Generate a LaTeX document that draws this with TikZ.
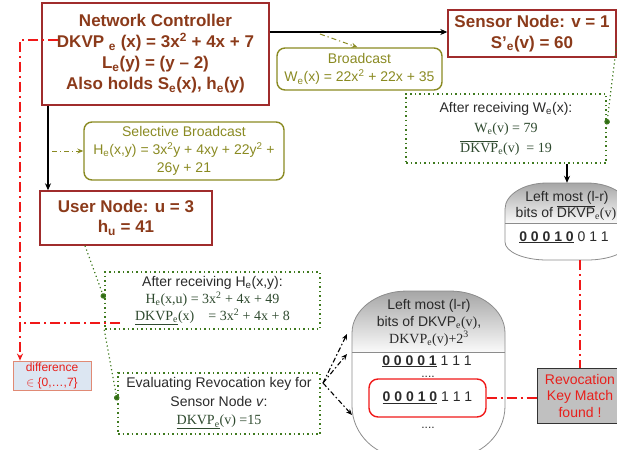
\documentclass[tikz,border=0pt]{standalone}
\usepackage{fontspec}
\setmainfont{Liberation Sans}
\newfontfamily\serif{Liberation Serif}
\usetikzlibrary{arrows.meta}
\definecolor{ncred}{HTML}{A02C2C}
\definecolor{nctext}{HTML}{8B3A1A}
\definecolor{olv}{HTML}{8A8A22}
\definecolor{dgreen}{HTML}{3F7A1F}
\definecolor{dotc}{HTML}{2E6A14}
\definecolor{frm}{HTML}{2F4A2F}
\definecolor{stx}{HTML}{2A2A2A}
\definecolor{rline}{HTML}{F01818}
\definecolor{revred}{HTML}{E8201C}
\definecolor{diffill}{HTML}{DCE6F2}
\definecolor{difborder}{HTML}{E08A75}
\definecolor{revfill}{HTML}{C0C0C0}
\definecolor{shapeline}{HTML}{8C8C8C}
\newcommand\bits[2]{\underline{\textbf{#1}} #2}
\newcommand\ovdk{$\overline{\mbox{DKVP}}$}
\newcommand\pillpath[7]{(#1,#2+#6) .. controls (#1,#2+0.448*#6) and (#1+0.448*#5,#2) .. (#1+#5,#2) -- (#3-#5,#2) .. controls (#3-0.448*#5,#2) and (#3,#2+0.448*#6) .. (#3,#2+#6) -- (#3,#4-#7) .. controls (#3,#4-0.448*#7) and (#3-0.448*#5,#4) .. (#3-#5,#4) -- (#1+#5,#4) .. controls (#1+0.448*#5,#4) and (#1,#4-0.448*#7) .. (#1,#4-#7) -- cycle}
\begin{document}
\begin{tikzpicture}[x=1pt,y=-1pt,
  ncbox/.style={draw=ncred, line width=1.4pt, text=nctext, font=\fontsize{17}{21}\selectfont\bfseries, align=center, inner sep=0pt},
  olbox/.style={draw=olv, line width=1.4pt, rounded corners=8pt, text=olv, font=\fontsize{14}{18.5}\selectfont, align=center, inner sep=0pt},
  dotbox/.style={draw=dgreen, line width=1.5pt, dash pattern=on 1.5pt off 3pt, align=center, inner sep=0pt, text=stx, font=\fontsize{14}{17.5}\selectfont},
  stxt/.style={text=stx, font=\fontsize{14}{17}\selectfont, inner sep=0pt},
  shp/.style={draw=shapeline, line width=0.8pt},
  redbox/.style={draw=rline, line width=1.4pt, rounded corners=9pt, minimum width=117pt, minimum height=38pt, inner sep=0pt, text=stx, font=\fontsize{14}{17}\selectfont},
  blk/.style={draw=black, line width=1.1pt, -{Stealth[length=7pt,width=6pt]}},
  olvarrow/.style={draw=olv, line width=1pt, dash pattern=on 5pt off 3pt on 1.2pt off 3pt, -{Stealth[length=6pt,width=5pt]}},
  dotlink/.style={draw=dgreen, line width=1.2pt, dash pattern=on 1.2pt off 2.8pt, -{Circle[length=5.5pt,fill=dotc]}},
  reddash/.style={draw=rline, line width=2pt, dash pattern=on 10pt off 4pt on 2pt off 4pt},
  bdash/.style={draw=black, line width=1.1pt, dash pattern=on 5pt off 2.5pt on 1.5pt off 2.5pt, -{Stealth[length=6pt,width=5pt]}}
]
\useasboundingbox (0,0) rectangle (617,449);
\clip (0,0) rectangle (617,449);

% top-right bit shape
\begin{scope}
\clip \pillpath{505}{183}{629}{260}{42}{26}{18};
\shade[top color=gray!70, bottom color=gray!4] (505,183) rectangle (629,223);
\end{scope}
\draw[shp] \pillpath{505}{183}{629}{260}{42}{26}{18};
\draw[shp] (505,223) -- (629,223);
\node[inner sep=0pt, minimum width=124pt, minimum height=77pt] (lm1) at (567,221.5) {};

% big bit shape
\begin{scope}
\clip \pillpath{352}{291}{505}{458}{55}{42}{52};
\shade[top color=gray!70, bottom color=gray!4] (352,291) rectangle (505,352);
\end{scope}
\draw[shp] \pillpath{352}{291}{505}{458}{55}{42}{52};
\draw[shp] (352,352) -- (505,352);
\node[inner sep=0pt, minimum width=153pt, minimum height=167pt] (lm2) at (428.5,374.5) {};

\node[stxt, anchor=base] (l1a) at (567,201) {Left most (l-r)};
\node[stxt, anchor=base] (l1b) at (566,217) {bits of \ovdk{\serif\textsubscript{e}(v)}};
\node[stxt, anchor=base] (l1c) at (564,241) {\bits{0 0 0 1 0}{0 1 1}};
\node[stxt, anchor=base] (l2a) at (429,309) {Left most (l-r)};
\node[stxt, anchor=base] (l2b) at (429,326) {bits of DKVP{\serif\textsubscript{e}(v)},};
\node[stxt, anchor=base] (l2c) at (429,343) {\serif DKVP\textsubscript{e}(v)+2\textsuperscript{3}};
\node[stxt, anchor=base] (l2d) at (427,365) {\bits{0 0 0 0 1}{1 1 1}};
\node[stxt, anchor=base, font=\fontsize{12}{14}\selectfont] (l2e) at (428,377) {....};
\node[redbox] (rb) at (427.5,398) {\bits{0 0 0 1 0}{1 1 1}};
\node[stxt, anchor=base, font=\fontsize{12}{14}\selectfont] (l2f) at (428,428) {....};

% main boxes
\node[ncbox, minimum width=227pt, minimum height=102pt] (nc) at (155.5,54)
  {Network Controller\\DKVP \textsubscript{e} (x) = 3x\textsuperscript{2} + 4x + 7\\L\textsubscript{e}(y) = (y – 2)\\Also holds S\textsubscript{e}(x), h\textsubscript{e}(y)};
\node[ncbox, minimum width=168pt, minimum height=47pt] (sn) at (532,33.5)
  {Sensor Node: v = 1\\S’\textsubscript{e}(v) = 60};
\node[ncbox, minimum width=172pt, minimum height=54pt, font=\fontsize{17}{20}\selectfont\bfseries] (un) at (126,218)
  {User Node: u = 3\\h\textsubscript{u} = 41};
\node[olbox, minimum width=165pt, minimum height=42pt] (bc) at (359.5,69)
  {Broadcast\\W\textsubscript{e}(x) = 22x\textsuperscript{2} + 22x + 35};
\node[olbox, minimum width=200pt, minimum height=58pt, font=\fontsize{14}{18}\selectfont] (sb) at (184,151)
  {Selective Broadcast\\H\textsubscript{e}(x,y) = 3x\textsuperscript{2}y + 4xy + 22y\textsuperscript{2} +\\26y + 21};
\node[dotbox, minimum width=200pt, minimum height=69pt, font=\fontsize{14}{20}\selectfont] (aw) at (506,128.5)
  {After receiving W\textsubscript{e}(x):\\{\serif\color{frm}W\textsubscript{e}(v) = 79}\\{\serif\color{frm}\ovdk\textsubscript{e}(v)~~= 19}};
\node[dotbox, minimum width=215pt, minimum height=57pt, font=\fontsize{14}{17}\selectfont] (ah) at (212.5,300.5)
  {After receiving H\textsubscript{e}(x,y):\\{\serif\color{frm}H\textsubscript{e}(x,u) = 3x\textsuperscript{2} + 4x + 49}\\{\serif\color{frm}\underline{DKVP\textsubscript{e}}(x)\quad = 3x\textsuperscript{2} + 4x + 8}};
\node[dotbox, minimum width=202pt, minimum height=61pt, font=\fontsize{14}{18.5}\selectfont] (ev) at (219,403.5)
  {Evaluating Revocation key for\\Sensor Node \textit{v}:\\{\serif\color{frm}\underline{DKVP\textsubscript{e}}(v) =15}};
\node[draw=difborder, fill=diffill, line width=0.8pt, minimum width=78pt, minimum height=29pt, text=revred, font=\fontsize{12}{15}\selectfont, align=center, inner sep=0pt] (df) at (52,375.5)
  {difference\\$\in$ \{0,…,7\}};
\node[draw=gray!40!black, fill=revfill, line width=0.8pt, minimum width=86pt, minimum height=55pt, text=revred, font=\fontsize{14}{16.5}\selectfont, align=center, inner sep=0pt] (rv) at (580,395.5)
  {Revocation\\Key Match\\found !};

% connectors
\coordinate (ncr) at ([yshift=22pt]nc.east);
\draw[blk] (ncr) -- (ncr -| sn.west);
\coordinate (ncs) at ([xshift=-107.5pt]nc.south);
\draw[blk] (ncs) -- (ncs |- un.north);
\coordinate (bcs) at (320,34);
\draw[olvarrow] (bcs) -- ([xshift=-2pt]bc.north);
\coordinate (sbs) at (52,151);
\draw[olvarrow] (sbs) -- (sb.west);
\draw[blk] (lm1.north |- aw.south) -- (lm1.north);
\draw[dotlink] ([yshift=-10pt]sn.east) -- ([yshift=4pt]aw.east);
\coordinate (uns) at ([xshift=-41pt]un.south);
\draw[dotlink] (uns) -- ([yshift=2pt]ah.west);
\draw[dotlink] (ah.south west) -- ([yshift=3pt]ev.west);
\coordinate (evx) at (323,383);
\coordinate (t1) at (347,334);
\coordinate (t2) at (347,354);
\coordinate (t3) at (352,415);
\draw[bdash] (evx) -- (t1);
\draw[bdash] (evx) -- (t2);
\draw[bdash] (evx) -- (t3);
\draw[reddash] (rb.east) -- (rb.east -| rv.west);
\draw[reddash] (rv.north |- lm1.south) -- (rv.north);
\coordinate (r0) at (58,40);
\coordinate (rc) at (20,40);
\draw[reddash, -{Stealth[length=7pt,width=6pt]}] (r0) -- (rc) -- (rc |- df.north);
\coordinate (r1) at (120,323);
\draw[reddash] (r1) -- (r1 -| rc);
\end{tikzpicture}
\end{document}
